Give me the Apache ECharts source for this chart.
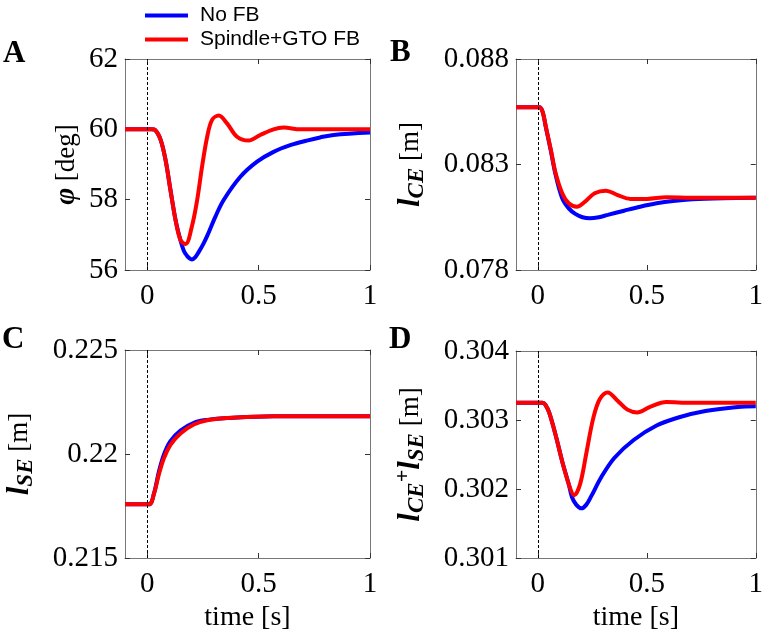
<!DOCTYPE html>
<html>
<head>
<meta charset="utf-8">
<script src="https://cdn.jsdelivr.net/npm/echarts@6/dist/echarts.min.js"></script>
<style>
html,body{margin:0;padding:0;background:#fff;}
#chart{width:766px;height:633px;}
</style>
</head>
<body>
<div id="chart"></div>
<script>
// ---------- data ----------
const seriesNames = ['No FB', 'Spindle+GTO FB'];
const xTicks = [0, 0.5, 1];
const yTicksA = [56, 58, 60, 62];
const yTicksB = [0.078, 0.083, 0.088];
const yTicksC = [0.215, 0.22, 0.225];
const yTicksD = [0.301, 0.302, 0.303, 0.304];

// Panel A: joint angle phi [deg]
const tA_noFB = [-0.1, 0.02, 0.035, 0.06, 0.082, 0.104, 0.127, 0.149, 0.164, 0.179, 0.19, 0.2, 0.215, 0.23, 0.25, 0.269, 0.306, 0.343, 0.418, 0.493, 0.567, 0.642, 0.716, 0.776, 0.836, 1];
const vA_noFB = [60, 60, 59.98, 59.70, 59.13, 58.28, 57.42, 56.85, 56.55, 56.40, 56.33, 56.30, 56.36, 56.50, 56.72, 56.97, 57.52, 57.99, 58.65, 59.08, 59.36, 59.55, 59.68, 59.77, 59.84, 59.91];
const tA_FB = [-0.1, 0.02, 0.035, 0.06, 0.082, 0.104, 0.127, 0.149, 0.172, 0.2, 0.224, 0.246, 0.269, 0.291, 0.321, 0.358, 0.403, 0.455, 0.507, 0.567, 0.612, 0.687, 0.8, 1];
const vA_FB = [60, 60, 59.98, 59.70, 59.13, 58.28, 57.42, 56.85, 56.74, 57.23, 57.99, 58.94, 59.79, 60.27, 60.39, 60.17, 59.79, 59.68, 59.84, 60.0, 60.05, 60.0, 60.0, 60.0];

// Panel B: l_CE [m]
const tB_noFB = [-0.1, 0.007, 0.022, 0.037, 0.06, 0.082, 0.112, 0.142, 0.172, 0.205, 0.239, 0.28, 0.321, 0.396, 0.47, 0.545, 0.62, 0.709, 0.85, 1];
const vB_noFB = [0.08571, 0.08571, 0.08550, 0.08476, 0.08364, 0.08250, 0.08140, 0.08092, 0.08066, 0.08050, 0.08045, 0.08050, 0.08061, 0.08081, 0.08100, 0.08116, 0.08127, 0.08135, 0.08140, 0.08142];
const tB_FB = [-0.1, 0.007, 0.022, 0.037, 0.06, 0.082, 0.112, 0.142, 0.179, 0.217, 0.261, 0.313, 0.366, 0.425, 0.5, 0.59, 0.7, 1];
const vB_FB = [0.08571, 0.08571, 0.08550, 0.08479, 0.08369, 0.08258, 0.08164, 0.08116, 0.08100, 0.08124, 0.08164, 0.08176, 0.08155, 0.08137, 0.08137, 0.08145, 0.08143, 0.08142];

// Panel C: l_SE [m]
const tC_noFB = [-0.1, 0.007, 0.03, 0.052, 0.075, 0.104, 0.149, 0.209, 0.269, 0.358, 0.567, 1];
const vC_noFB = [0.21758, 0.21758, 0.21810, 0.21915, 0.21998, 0.22062, 0.22113, 0.22150, 0.22164, 0.22173, 0.22182, 0.22181];
const tC_FB = [-0.1, 0.007, 0.03, 0.052, 0.075, 0.104, 0.149, 0.209, 0.269, 0.358, 0.567, 1];
const vC_FB = [0.21758, 0.21758, 0.21808, 0.21902, 0.21981, 0.22044, 0.22099, 0.22142, 0.22162, 0.22173, 0.22182, 0.22181];

// Panel D: l_CE + l_SE [m]
const tD_noFB = [-0.1, 0.022, 0.035, 0.052, 0.082, 0.112, 0.142, 0.157, 0.177, 0.2, 0.222, 0.246, 0.291, 0.351, 0.44, 0.545, 0.649, 0.769, 0.918, 1];
const vD_noFB = [0.30325, 0.30325, 0.30322, 0.30311, 0.30278, 0.30240, 0.30207, 0.30188, 0.30177, 0.30172, 0.30177, 0.30190, 0.30217, 0.30245, 0.30271, 0.30292, 0.30304, 0.30313, 0.30319, 0.30320];
const tD_FB = [-0.1, 0.022, 0.035, 0.052, 0.082, 0.112, 0.142, 0.167, 0.194, 0.224, 0.254, 0.284, 0.321, 0.366, 0.411, 0.455, 0.515, 0.59, 0.7, 1];
const vD_FB = [0.30325, 0.30325, 0.30322, 0.30311, 0.30278, 0.30240, 0.30207, 0.30191, 0.30207, 0.30254, 0.30302, 0.30330, 0.30340, 0.30328, 0.30315, 0.30311, 0.30319, 0.30326, 0.30325, 0.30325];

// ---------- chart ----------
const zip = (t, v) => t.map((x, i) => [x, v[i]]);
const SERIF = 'Liberation Serif';
const SANS = 'Liberation Sans';
const FRAME = '#777';
const BLUE = '#0000ff';
const RED = '#ff0000';

const panels = [
  { grid: { left: 125, top: 59, width: 245, height: 211 }, yTicks: yTicksA,
    noFB: zip(tA_noFB, vA_noFB), fb: zip(tA_FB, vA_FB),
    name: '{phi|φ} {t|[deg]}', nameGap: 44, xName: '' },
  { grid: { left: 516, top: 59, width: 246, height: 211 }, yTicks: yTicksB,
    noFB: zip(tB_noFB, vB_noFB), fb: zip(tB_FB, vB_FB),
    name: '{l|l}{sub|CE} {t|[m]}', nameGap: 87, xName: '' },
  { grid: { left: 125, top: 350, width: 245, height: 212 }, yTicks: yTicksC,
    noFB: zip(tC_noFB, vC_noFB), fb: zip(tC_FB, vC_FB),
    name: '{l|l}{sub|SE} {t|[m]}', nameGap: 87, xName: 'time [s]' },
  { grid: { left: 516, top: 351, width: 246, height: 211 }, yTicks: yTicksD,
    noFB: zip(tD_noFB, vD_noFB), fb: zip(tD_FB, vD_FB),
    name: '{l|l}{sub|CE}{sup|+}{l|l}{sub|SE} {t|[m]}', nameGap: 87, xName: 'time [s]' }
];

const richName = {
  phi: { fontFamily: SERIF, fontSize: 29, fontStyle: 'italic', fontWeight: 'bold', color: '#000' },
  t: { fontFamily: SERIF, fontSize: 27, color: '#000' },
  l: { fontFamily: SERIF, fontSize: 31, fontStyle: 'italic', fontWeight: 'bold', color: '#000' },
  sub: { fontFamily: SERIF, fontSize: 23, fontStyle: 'italic', fontWeight: 'bold', color: '#000', padding: [14, 0, 0, 0] },
  sup: { fontFamily: SERIF, fontSize: 22, fontWeight: 'bold', color: '#000', padding: [0, 0, 14, 0] }
};

const grids = [], xAxes = [], yAxes = [], series = [];
panels.forEach((p, i) => {
  grids.push(Object.assign({ containLabel: false }, p.grid));
  const ymin = p.yTicks[0], ymax = p.yTicks[p.yTicks.length - 1];
  xAxes.push({
    type: 'value', gridIndex: i, position: 'bottom', min: -0.1, max: 1,
    axisLine: { show: true, onZero: false, lineStyle: { color: FRAME, width: 1 } },
    axisTick: { show: true, inside: true, length: 5, customValues: xTicks, lineStyle: { color: '#333' } },
    axisLabel: { show: true, customValues: xTicks, margin: 12, fontFamily: SERIF, fontSize: 29, color: '#000',
      formatter: v => String(v) },
    splitLine: { show: false },
    name: p.xName, nameLocation: 'middle', nameGap: 46,
    nameTextStyle: { fontFamily: SERIF, fontSize: 28, color: '#000' }
  });
  xAxes.push({
    type: 'value', gridIndex: i, position: 'top', min: -0.1, max: 1,
    axisLine: { show: true, onZero: false, lineStyle: { color: FRAME, width: 1 } },
    axisTick: { show: true, inside: true, length: 5, customValues: xTicks, lineStyle: { color: '#333' } },
    axisLabel: { show: false }, splitLine: { show: false }
  });
  yAxes.push({
    type: 'value', gridIndex: i, position: 'left', min: ymin, max: ymax,
    axisLine: { show: true, onZero: false, lineStyle: { color: FRAME, width: 1 } },
    axisTick: { show: true, inside: true, length: 5, customValues: p.yTicks, lineStyle: { color: '#333' } },
    axisLabel: { show: true, customValues: p.yTicks, margin: 7, fontFamily: SERIF, fontSize: 29, color: '#000',
      formatter: v => String(+v.toFixed(6)) },
    splitLine: { show: false },
    name: p.name, nameLocation: 'middle', nameRotate: 90, nameGap: p.nameGap,
    nameTextStyle: { rich: richName, fontFamily: SERIF, fontSize: 27, color: '#000' }
  });
  yAxes.push({
    type: 'value', gridIndex: i, position: 'right', min: ymin, max: ymax,
    axisLine: { show: true, onZero: false, lineStyle: { color: FRAME, width: 1 } },
    axisTick: { show: true, inside: true, length: 5, customValues: p.yTicks, lineStyle: { color: '#333' } },
    axisLabel: { show: false }, splitLine: { show: false }
  });
  series.push({
    name: seriesNames[0], type: 'line', xAxisIndex: 2 * i, yAxisIndex: 2 * i,
    data: p.noFB, showSymbol: false, smooth: 0.35, z: 3,
    lineStyle: { color: BLUE, width: 4 }, itemStyle: { color: BLUE },
    markLine: {
      silent: true, symbol: ['none', 'none'], label: { show: false }, animation: false,
      lineStyle: { color: '#000', width: 1, type: [3, 2] },
      data: [{ xAxis: 0 }]
    }
  });
  series.push({
    name: seriesNames[1], type: 'line', xAxisIndex: 2 * i, yAxisIndex: 2 * i,
    data: p.fb, showSymbol: false, smooth: 0.35, z: 4,
    lineStyle: { color: RED, width: 4 }, itemStyle: { color: RED }
  });
});

const letters = [['A', 3, 55], ['B', 390, 54], ['C', 2, 341], ['D', 389, 341]];

const chart = echarts.init(document.getElementById('chart'), null, { renderer: 'canvas' });
chart.setOption({
  animation: false,
  backgroundColor: '#fff',
  grid: grids,
  xAxis: xAxes,
  yAxis: yAxes,
  series: series,
  legend: {
    data: seriesNames, orient: 'vertical', left: 140, top: 0,
    icon: 'rect', itemWidth: 43, itemHeight: 4, itemGap: 3,
    textStyle: { fontFamily: SANS, fontSize: 21, color: '#000', lineHeight: 21, padding: [0, 0, 0, 7] }
  },
  graphic: letters.map(([txt, x, y]) => ({
    type: 'text', left: x, top: y - 17,
    style: { text: txt, fontFamily: SERIF, fontSize: 31, fontWeight: 'bold', fill: '#000' }
  }))
});
</script>
</body>
</html>
